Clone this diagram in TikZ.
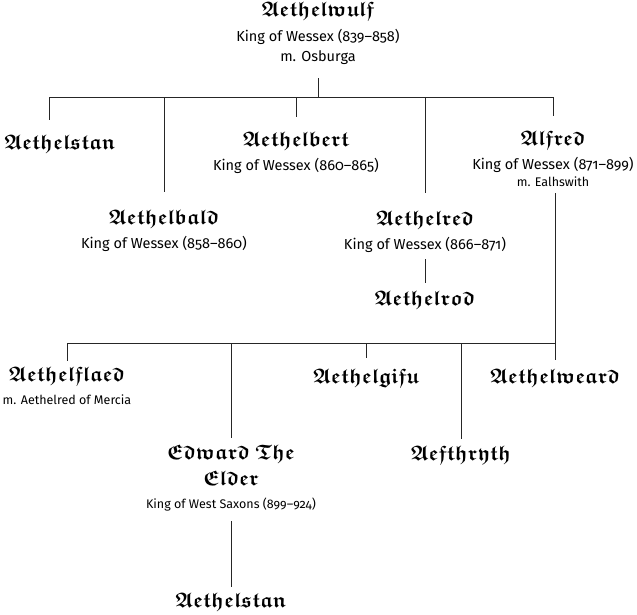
\documentclass[tikz,border=0pt]{standalone}
\usepackage{amssymb}
\usepackage{bm}
\usepackage{fontspec}
\setmainfont{Fira Sans}[Numbers=OldStyle]
\usetikzlibrary{positioning}

\newcommand{\pname}[1]{{\fontsize{21}{21}\selectfont$\bm{\mathfrak{#1}}$}}

\begin{document}
\begin{tikzpicture}[x=1pt, y=-1pt,
  person/.style={align=center, inner sep=1pt, font=\fontsize{14.5}{20}\selectfont},
  small/.style={person, font=\fontsize{12.5}{17}\selectfont},
  link/.style={draw=black!85, line width=0.8pt},
]
  \useasboundingbox (0,0) rectangle (637,614);

  % generation 1
  \node[person, anchor=north] (wulf) at (318,1) {\pname{Aethelwulf}\\[5pt] King of Wessex (839--858)\\ m. Osburga};
  \coordinate (top-l) at (49,97);
  \coordinate (top-r) at (553,97);

  % generation 2
  \node[person] (stan) at (60,144) {\pname{Aethelstan}};
  \node[person, anchor=north] (bert) at (296,131) {\pname{Aethelbert}\\[4pt] King of Wessex (860--865)};
  \node[person, anchor=north] (alfred) at (553,130) {\pname{Alfred}\\[4pt] King of Wessex (871--899)\\[-3pt] {\fontsize{12.5}{17}\selectfont m. Ealhswith}};
  \node[person, anchor=north] (bald) at (164,209) {\pname{Aethelbald}\\[4pt] King of Wessex (858--860)};
  \node[person, anchor=north] (red) at (425,210) {\pname{Aethelred}\\[4pt] King of Wessex (866--871)};
  \node[person] (rod) at (425,300) {\pname{Aethelrod}};

  % generation 3
  \coordinate (bot-l) at (67,343);
  \coordinate (bot-r) at (555,343);
  \node[small, anchor=north] (flaed) at (67,366) {\pname{Aethelflaed}\\[6pt] m. Aethelred of Mercia};
  \node[person] (gifu) at (366,378) {\pname{Aethelgifu}};
  \node[person] (weard) at (555,378) {\pname{Aethelweard}};
  \node[small, anchor=north] (edward) at (231,444) {\pname{Edward\ The}\\[6pt] \pname{Elder}\\[6pt] King of West Saxons (899--924)};
  \node[person] (thryth) at (461,455) {\pname{Aefthryth}};
  \node[person] (stan2) at (231,602) {\pname{Aethelstan}};

  % lines
  \draw[link, shorten <=12pt] (wulf.south) -- (wulf.south |- top-l);
  \draw[link] (top-l) -- (top-r);
  \draw[link, shorten >=14pt] (top-l) -- (top-l |- stan.north);
  \draw[link, shorten >=17pt] (bald |- top-l) -- (bald.north);
  \draw[link, shorten >=14pt] (bert |- top-l) -- (bert.north);
  \draw[link, shorten >=17pt] (red |- top-l) -- (red.north);
  \draw[link, shorten >=14pt] (top-r) -- (alfred.north);
  \draw[link, shorten <=5pt, shorten >=7pt] (red.south) -- (rod.north);
  \draw[link, shorten <=5pt] (alfred.south -| bot-r) -- (bot-r);
  \draw[link] (bot-l) -- (bot-r);
  \draw[link, shorten >=5pt] (bot-l) -- (flaed.north);
  \draw[link, shorten >=6pt] (edward |- bot-l) -- (edward.north);
  \draw[link, shorten >=10pt] (gifu |- bot-l) -- (gifu.north);
  \draw[link, shorten >=6pt] (thryth |- bot-l) -- (thryth.north);
  \draw[link, shorten >=8pt] (bot-r) -- (weard.north);
  \draw[link, shorten <=9pt, shorten >=5pt] (edward.south) -- (stan2.north);
\end{tikzpicture}
\end{document}
